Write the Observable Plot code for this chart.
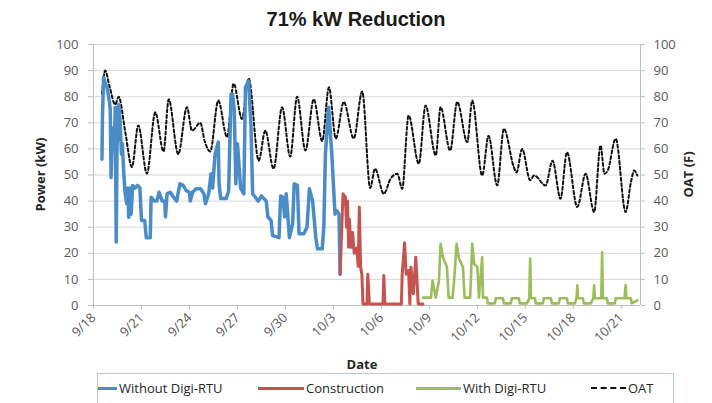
<!DOCTYPE html>
<html><head><meta charset="utf-8">
<script src="https://cdn.jsdelivr.net/npm/d3@7"></script>
<script src="https://cdn.jsdelivr.net/npm/@observablehq/plot@0.6"></script>
<style>
body{margin:0;background:#fff;}
#wrap{position:relative;width:712px;height:403px;overflow:hidden;font-family:"Open Sans",sans-serif;}
#title{position:absolute;left:0;top:0;width:712px;height:36px;line-height:38px;text-align:center;font-weight:bold;font-size:20px;font-family:"Liberation Sans",Arial,sans-serif;color:#1a1a1a;}
#chart{position:absolute;left:0;top:36px;}
#legend{position:absolute;left:97px;top:373px;width:577px;height:40px;border:1px solid #b9c9da;box-sizing:border-box;overflow:hidden;background:#fff;}
.li{position:absolute;top:4px;height:20px;display:flex;align-items:center;font-size:13px;color:#262626;white-space:nowrap;}
.sw{display:inline-block;margin-right:2px;}
</style></head>
<body><div id="wrap"><div id="title">71% kW Reduction</div><div id="chart"></div><div id="legend"></div></div>
<script>
// ---- data (day offsets from 9/18 00:00) ----
const startDate = "2014-09-18";
const endDay = 34.2;
const dateTicks = ["9/18","9/21","9/24","9/27","9/30","10/3","10/6","10/9","10/12","10/15","10/18","10/21"];
const tickDays = [0,3,6,9,12,15,18,21,24,27,30,33];
const valueTicks = [0,10,20,30,40,50,60,70,80,90,100];

const withoutDay = [0.53,0.56,0.63,0.75,0.85,1.0,1.05,1.1,1.2,1.3,1.36,1.42,1.47,1.57,1.65,1.75,1.8,1.9,1.98,2.08,2.15,2.2,2.3,2.35,2.45,2.6,2.75,2.9,3.0,3.2,3.3,3.55,3.6,3.8,3.96,4.1,4.3,4.45,4.5,4.6,4.8,5.0,5.2,5.3,5.4,5.6,5.8,6.0,6.05,6.2,6.4,6.7,6.9,7.0,7.2,7.35,7.45,7.6,7.8,7.85,7.95,8.3,8.45,8.6,8.7,8.8,8.9,9.0,9.2,9.4,9.5,9.7,9.85,9.95,10.3,10.5,10.8,10.9,11.1,11.2,11.6,11.7,11.85,11.95,12.05,12.25,12.45,12.55,12.75,12.85,13.15,13.35,13.5,13.7,13.9,14.0,14.3,14.4,14.5,14.7,14.9,15.1,15.2,15.35,15.42];
const withoutKw  = [56,72,87.5,85,83.6,78,74.7,49,68,60,76,24.3,60,77,72,58,62,50,42.8,39,45,33.8,45,35,46,45,46,45,32.6,32.6,26,26,41.5,40,40,43.4,40,40,34,42.8,43.4,41.5,40,43.4,46.6,46,44,43.4,40,43.4,44.7,44.7,42.8,39,42.8,50.5,45,58,62.6,46.6,41,41,44,81,81,74.7,46.6,62,45,42.8,83.6,86,68,42.8,40,42,40,34,32.6,26.8,26,42,41.5,34,42.8,26,31.3,46.6,46,27.5,27.5,30,44.7,40,26,21.7,21.7,30,58,76,58,35,36.4,35,12];

const constrDay = [15.42,15.6,15.75,15.82,15.88,15.95,16.0,16.1,16.2,16.3,16.45,16.55,16.62,16.7,16.78,16.85,17.1,17.15,17.25,18.1,18.15,18.22,19.25,19.3,19.45,19.55,19.7,19.78,19.85,20.0,20.15,20.3,20.6];
const constrKw  = [12,42.8,41.5,30,40,22.3,33,22.3,28,20,22,15,37.7,14.7,12,0.6,0.6,12,0.6,0.6,11.5,0.6,0.6,12,24,12,13.4,0.6,14.7,4.5,18.5,0.6,0.6];

const withDay = [20.6,21.1,21.2,21.4,21.6,21.7,21.85,22.1,22.2,22.45,22.55,22.7,22.85,23.1,23.2,23.55,23.68,23.8,24.0,24.1,24.3,24.35,24.6,24.65,25.1,25.15,25.6,25.65,26.1,26.15,26.6,26.65,27.1,27.25,27.3,27.35,27.6,27.65,28.1,28.15,28.6,28.65,29.1,29.15,29.6,29.65,30.1,30.2,30.25,30.3,30.6,30.65,31.1,31.25,31.3,31.35,31.6,31.75,31.8,31.85,32.1,32.15,32.6,32.65,33.1,33.2,33.27,33.32,33.6,33.65,34.0];
const withKw  = [3,3,9.6,3,9.6,23.6,18.5,14.7,3,3,9.6,23.6,18,14.7,3,3,23.6,16,14.7,3,18.5,3,3,0.8,0.8,2.8,2.8,0.8,0.8,2.8,2.8,0.8,0.8,2.8,18,2.8,2.8,0.8,0.8,2.8,2.8,0.8,0.8,2.8,2.8,0.8,0.8,2.8,7.7,2.8,2.8,0.8,0.8,2.8,7.7,2.8,2.8,2.8,20.4,2.8,2.8,0.8,0.8,2.8,2.8,2.8,7.7,2.8,2.8,0.8,2];

const oatDay = [0.53,0.73,1.0,1.36,1.57,2.0,2.4,2.8,3.34,3.86,4.38,4.7,5.3,5.84,6.16,6.68,6.95,7.3,7.8,8.35,8.76,9.28,9.7,10.33,10.74,11.26,11.79,12.3,12.73,13.25,13.77,14.3,14.72,15.15,15.65,16.27,16.8,17.3,17.6,18.15,18.57,19.0,19.3,19.7,20.34,20.76,21.4,21.7,22.3,22.74,23.37,23.68,24.3,24.7,25.24,25.66,26.28,26.45,26.8,27.3,27.55,28.27,28.7,29.2,29.6,30.25,30.77,31.3,31.7,31.95,32.15,32.65,33.27,33.6,33.8,34.0];
const oatF   = [81,90,84,77,80,66,53,69,50.5,74,59,79,58,76,67,70,63,59,78.5,64.5,85,71.5,87,55.5,67,52.4,76,57,80,59.4,79,63,83.6,64,78,64,82,45,52.4,42.8,48.5,50.5,44.7,72.8,54.3,76.6,57.5,76,59.4,78,62.6,78.5,49.8,65,46,67.7,53,51,60,48,49.8,46,55.5,40.9,58.7,37.7,50.5,35.8,61.3,50.5,51.7,63.9,35.8,47.2,51.7,49.8];

const seriesNames = ["Without Digi-RTU","Construction","With Digi-RTU","OAT"];
const seriesColors = ["#4a8cc7","#c55350","#9cbd5c","#111111"];

// ---- build ----
const t0 = Date.parse(startDate + "T00:00:00Z");
const toDate = d => new Date(t0 + d * 864e5);
const rows = (days, vals) => days.map((d, i) => ({date: toDate(d), v: vals[i]}));
const without = rows(withoutDay, withoutKw);
const constr = rows(constrDay, constrKw);
const withR = rows(withDay, withKw);
const oat = rows(oatDay, oatF);
const xDomain = [toDate(0), toDate(endDay)];
const tickDates = tickDays.map(toDate);
const tickLabel = new Map(tickDates.map((d, i) => [+d, dateTicks[i]]));

const axisCol = "#bfbfbf";
const chart = Plot.plot({
  width: 712, height: 345,
  marginLeft: 93, marginRight: 72, marginTop: 8, marginBottom: 76,
  style: {fontSize: "13px", fontFamily: "Open Sans, sans-serif", color: "#595959", background: "transparent"},
  x: {type: "utc", domain: xDomain},
  y: {domain: [0, 100]},
  marks: [
    Plot.gridY(valueTicks, {stroke: "#d9d9d9", strokeOpacity: 1}),
    Plot.ruleX([xDomain[0], xDomain[1]], {stroke: axisCol}),
    Plot.ruleY([0], {stroke: axisCol}),
    Plot.axisY(valueTicks, {anchor: "left", tickSize: 5, tickPadding: 10, stroke: axisCol, fill: "#595959", label: null}),
    Plot.axisY(valueTicks, {anchor: "right", tickSize: 4, tickPadding: 9, stroke: axisCol, fill: "#595959", label: null}),
    Plot.axisX(tickDates, {anchor: "bottom", tickSize: 4, tickPadding: 6, tickRotate: -45, stroke: axisCol, fill: "#595959", label: null, tickFormat: d => tickLabel.get(+d)}),
    Plot.line(oat, {x: "date", y: "v", stroke: seriesColors[3], strokeWidth: 2, strokeDasharray: "3,2.5", curve: "monotone-x"}),
    Plot.line(without, {x: "date", y: "v", stroke: seriesColors[0], strokeWidth: 3.5}),
    Plot.line(constr, {x: "date", y: "v", stroke: seriesColors[1], strokeWidth: 3}),
    Plot.line(withR, {x: "date", y: "v", stroke: seriesColors[2], strokeWidth: 2.6})
  ]
});
document.getElementById("chart").appendChild(chart);

const svg = d3.select(chart);
const ttl = (x, y, rot, txt) => svg.append("text")
  .attr("transform", `translate(${x},${y}) rotate(${rot})`)
  .attr("text-anchor", "middle").attr("dy", "0.35em")
  .attr("font-weight", "bold").attr("font-size", 13).attr("fill", "#262626").text(txt);
ttl(40, 138.5, -90, "Power (kW)");
ttl(688, 138.5, -90, "OAT (F)");
ttl(362, 328, 0, "Date");

// legend
const legendX = [ -25, 160, 318, 493 ];
const legendLen = [44, 46, 45, 35];
const lg = document.getElementById("legend");
seriesNames.forEach((name, i) => {
  const it = document.createElement("div");
  it.className = "li";
  it.style.left = legendX[i] + "px";
  const sw = document.createElement("span");
  sw.className = "sw";
  sw.style.width = legendLen[i] + "px";
  if (i === 3) { sw.style.borderTop = "2px dashed #111"; }
  else { sw.style.height = "3px"; sw.style.background = seriesColors[i]; }
  it.appendChild(sw);
  it.appendChild(document.createTextNode(name));
  lg.appendChild(it);
});
</script></body></html>
